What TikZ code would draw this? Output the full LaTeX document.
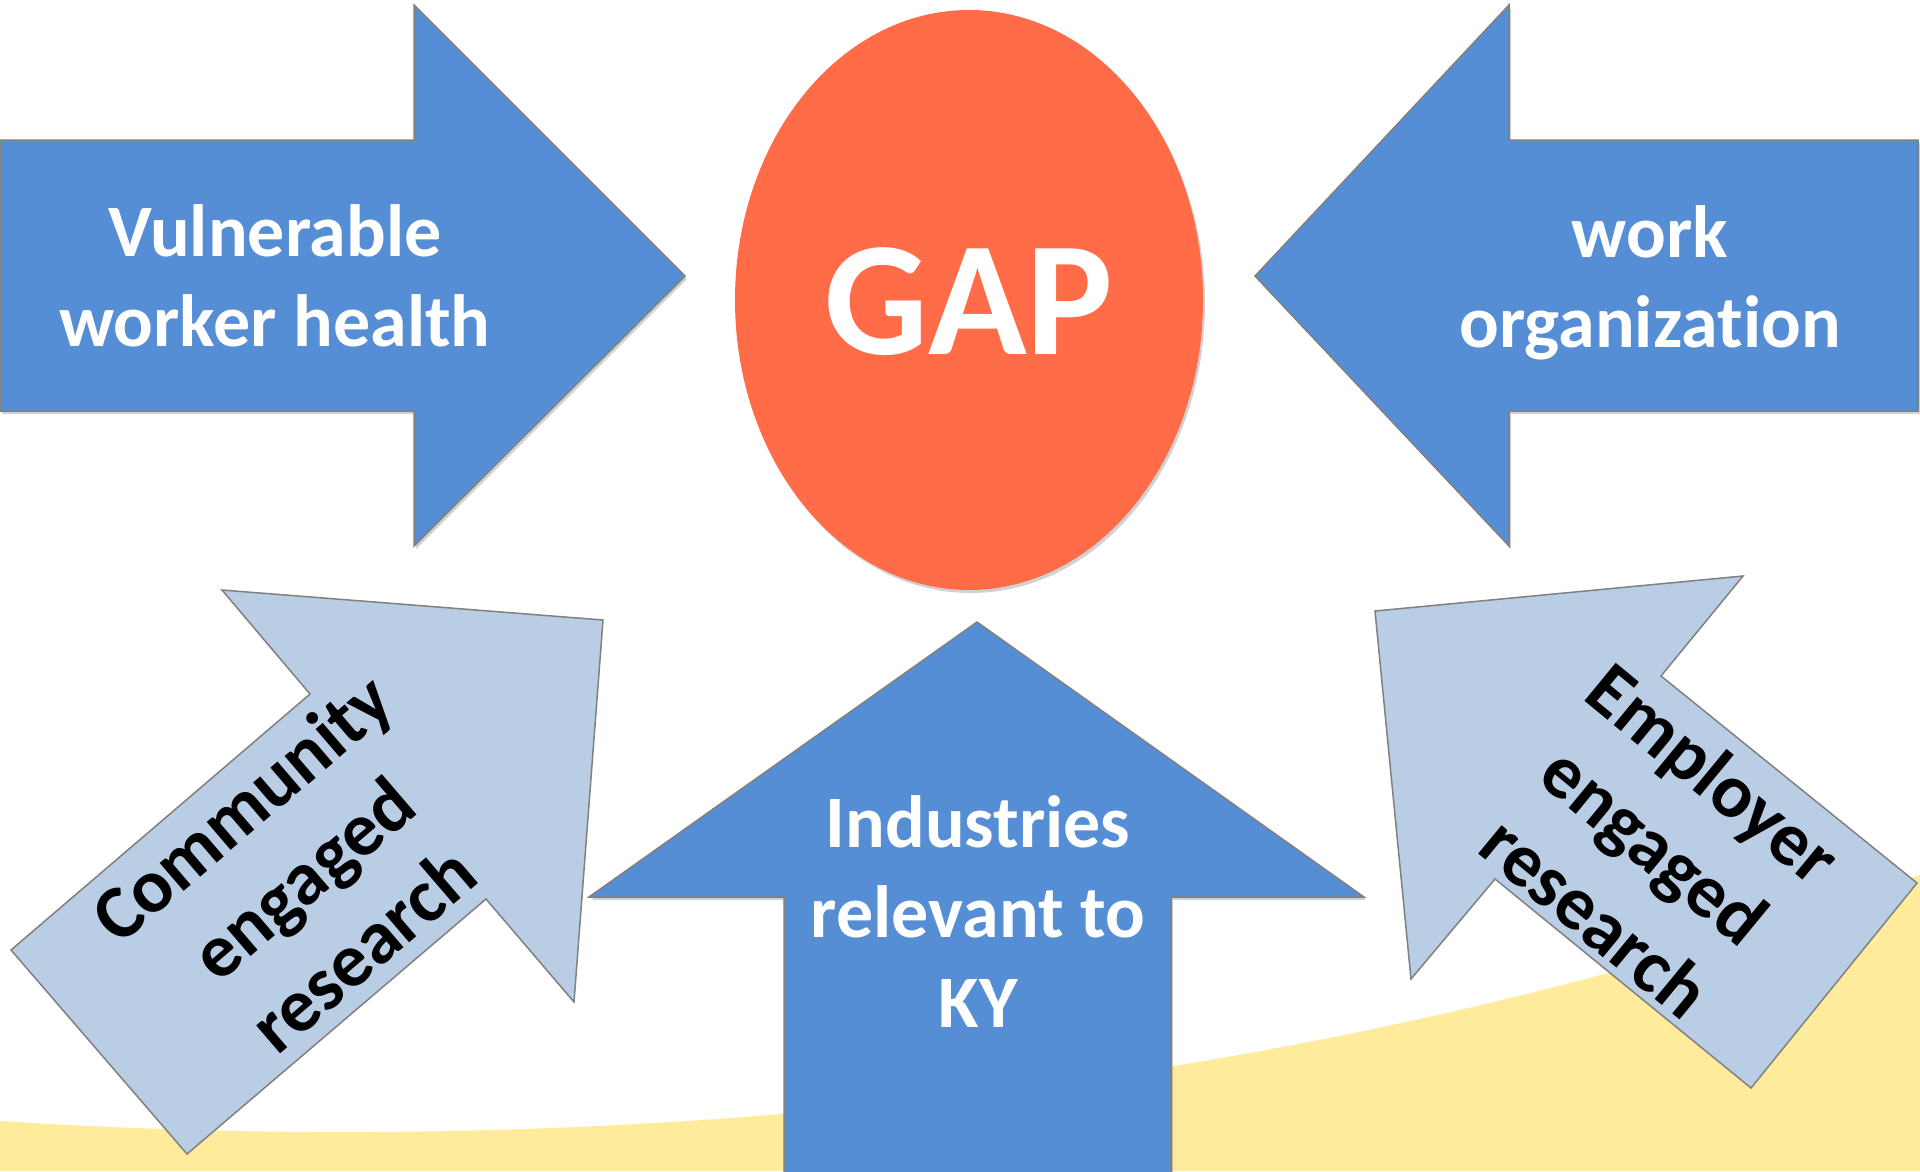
\documentclass[tikz,border=0pt]{standalone}
\usepackage{fontspec}
\setmainfont{Carlito}[Ligatures={NoCommon}]
\usetikzlibrary{shapes.geometric}
\definecolor{arrowblue}{RGB}{85,142,213}
\definecolor{paleblue}{RGB}{185,205,229}
\definecolor{gapred}{RGB}{255,108,71}
\definecolor{sand}{RGB}{255,235,156}
\definecolor{edgegray}{RGB}{128,128,128}
\begin{document}
\begin{tikzpicture}[x=1pt,y=-1pt,
  dropshade/.style={preaction={fill=black, fill opacity=0.18, draw=none,
      transform canvas={xshift=2pt,yshift=-3pt}}},
  bigarrow/.style={fill=arrowblue, draw=edgegray, line width=1.5pt, line join=miter, dropshade},
  softarrow/.style={fill=paleblue, draw=edgegray, line width=1.5pt, line join=miter},
  whitelabel/.style={text=white, font=\fontsize{74}{90}\selectfont\bfseries, align=center, inner sep=0pt},
  darklabel/.style={text=black, font=\fontsize{76}{93}\selectfont\bfseries, align=center, inner sep=0pt}]
\useasboundingbox (0,0) rectangle (1920,1171);
\fill[white] (0,0) rectangle (1920,1171);

% sand-coloured swell along the bottom
\fill[sand] (0,1121) .. controls (600,1160) and (1300,1100) .. (1920,875)
  -- (1920,1171) -- (0,1171) -- cycle;

% central oval
\node[ellipse, fill=gapred, minimum width=468pt, minimum height=580pt, dropshade,
  inner sep=0pt] (gap) at (969,300) {};
\node[text=white, font=\fontsize{163}{163}\selectfont\bfseries, inner sep=0pt]
  (gaptext) at (969,302) {GAP};

% horizontal arrows
\draw[bigarrow] (0,140) -- (414,140) -- (414,5) -- (685,276) -- (414,546)
  -- (414,411) -- (0,411) -- cycle;
\draw[bigarrow] (1918,140) -- (1509,140) -- (1509,5) -- (1255,276) -- (1509,546)
  -- (1509,411) -- (1918,411) -- cycle;
\node[whitelabel] (vuln) at (275,276) {Vulnerable\\worker health};
\node[whitelabel] (workorg) at (1650,283) {work\\organization};

% upward arrow
\draw[bigarrow] (977,622) -- (1364,897) -- (1171,897) -- (1171,1185)
  -- (784,1185) -- (784,897) -- (589,897) -- cycle;
\node[whitelabel] (industry) at (978,912) {Industries\\relevant to\\KY};

% slanted arrows
\draw[softarrow] (603,620) -- (574,1002) -- (486,899) -- (187,1154) -- (11,950)
  -- (310,694) -- (222,590) -- cycle;
\node[darklabel, rotate=40.6] (community) at (302,878) {Community\\engaged\\research};

\draw[softarrow] (1375,611) -- (1743,576) -- (1661,676) -- (1917,883) -- (1751,1088)
  -- (1495,879) -- (1411,979) -- cycle;
\node[darklabel, rotate=-39.5] (employer) at (1655,845) {Employer\\engaged\\research};
\end{tikzpicture}
\end{document}
